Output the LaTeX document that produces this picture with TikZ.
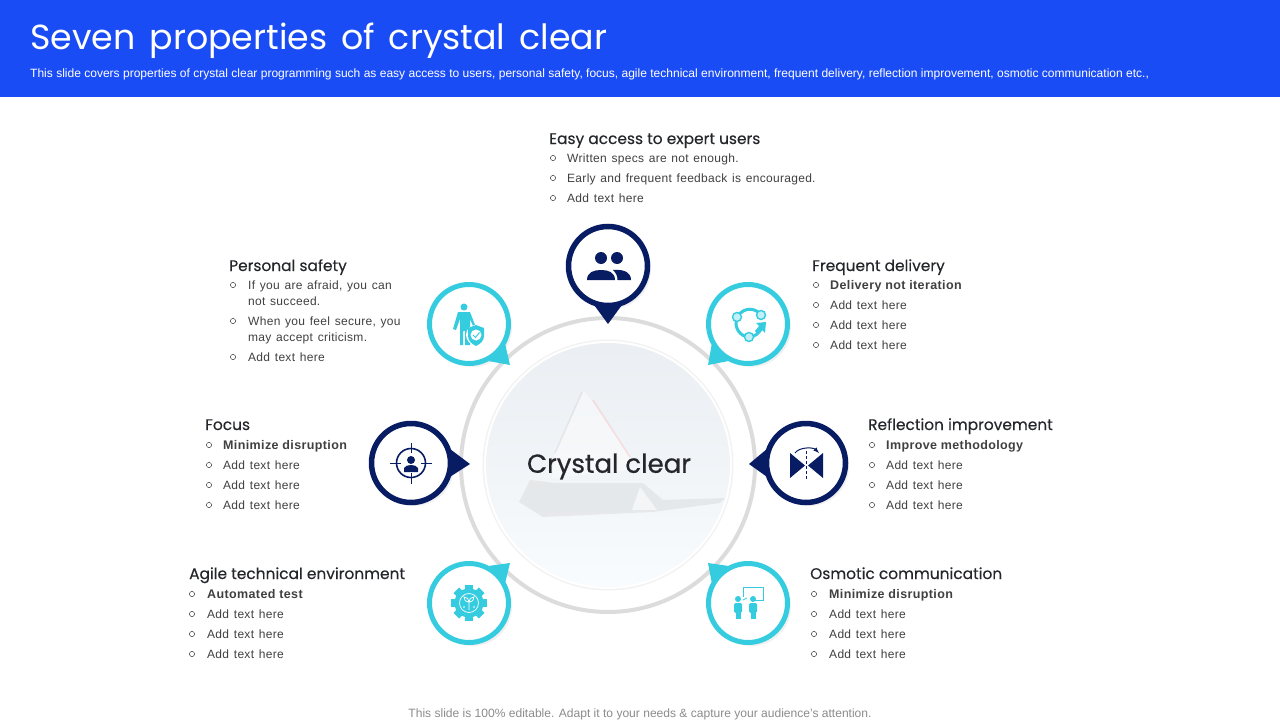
\documentclass[tikz,border=0pt]{standalone}
\usepackage{fontspec}
\usetikzlibrary{shadows}
\setmainfont{Liberation Sans}
\newfontfamily\titlefont{Poppins}[WordSpace=1.5]
\newfontfamily\headfont{Poppins}[FakeBold=0.25]
\newfontfamily\hubfont{Poppins}[FakeBold=0.7]
\newfontfamily\bodyfont{Liberation Sans}[LetterSpace=2.5,WordSpace=1.3]
\newfontfamily\strongfont{Liberation Sans Bold}[LetterSpace=3]
\definecolor{headerblue}{HTML}{1A4CF6}
\definecolor{pinnavy}{HTML}{071C63}
\definecolor{pinteal}{HTML}{36CCE0}
\definecolor{ringgray}{HTML}{DCDCDC}
\definecolor{inktext}{HTML}{24262B}
\definecolor{bodygray}{HTML}{404040}
\definecolor{disctop}{HTML}{EBEEF2}
\definecolor{discbottom}{HTML}{F8FCFE}
\tikzset{
	headtext/.style={anchor=west, inner sep=0, yshift=-1pt, text height=12pt, text depth=4pt, text=inktext, font=\headfont\fontsize{15.4}{18}\selectfont},
	bodytext/.style={anchor=west, inner sep=0, yshift=-1pt, text height=10pt, text depth=3pt, align=left, text=bodygray, font=\bodyfont\fontsize{12}{16}\selectfont},
	strongtext/.style={anchor=west, inner sep=0, yshift=-1pt, text height=10pt, text depth=3pt, text=bodygray, font=\strongfont\fontsize{12.5}{16}\selectfont},
	bulletline/.style={draw=bodygray, line width=0.5},
	pinbase/.style={circle, fill=white, minimum size=79, inner sep=0,
		drop shadow={shadow xshift=1.5pt, shadow yshift=-1.5pt, opacity=.1, fill=black!70},
		drop shadow={shadow xshift=3.5pt, shadow yshift=-3.5pt, opacity=.08, fill=black!70}},
	navypin/.style={pinbase, draw=pinnavy, line width=5.5},
	tealpin/.style={pinbase, draw=pinteal, line width=5},
}
\begin{document}
\begin{tikzpicture}[x=1pt, y=-1pt]
	\useasboundingbox (0,0) rectangle (1280,720);
	\fill[white] (0,0) rectangle (1280,720);
	\fill[headerblue] (0,0) rectangle (1280,97);
	\draw (30,41) node[anchor=west, inner sep=0, text=white, font=\titlefont\fontsize{34.8}{40}\selectfont] (title) {Seven properties of crystal clear};
	\draw (30,74) node[anchor=west, inner sep=0, text=white, font=\fontsize{12.03}{14}\selectfont] (subtitle) {This slide covers properties of crystal clear programming such as easy access to users, personal safety, focus, agile technical environment, frequent delivery, reflection improvement, osmotic communication etc.,};
	\draw (640,714) node[inner sep=0, text=black!45, font=\fontsize{12.05}{14}\selectfont] (footer) {This slide is 100\% editable. Adapt it to your needs \& capture your audience's attention.};

	\draw (608,465) node[circle, draw=ringgray, line width=4, minimum size=294, inner sep=0] (ring) {};
	\draw (608,465) node[circle, draw=white, line width=2, minimum size=246, inner sep=0, top color=disctop, bottom color=discbottom, middle color=disctop!55!discbottom,
		drop shadow={shadow xshift=0pt, shadow yshift=0pt, shadow scale=1.02, opacity=.05, fill=black}] (disc) {};

	\fill[black!25, opacity=.25] (519,502) -- (530,480) -- (555,483) -- (643,483) -- (663,500) -- (725,498) -- (720,503) -- (653,512) -- (543,517) -- cycle;
	\fill[white, opacity=.4] (584,390) -- (555,453) -- (552,478) -- (630,470) -- (630,457) -- cycle;
	\fill[white, opacity=.6] (640,487) -- (632,510) -- (657,510) -- cycle;
	\draw[black!20, opacity=.35, line width=1.5] (582,392) -- (555,453);
	\draw[red!30, opacity=.35, line width=1.5] (593,400) -- (630,457);
	\draw (609,465) node[inner sep=0, yshift=-1.5pt, text=inktext, font=\hubfont\fontsize{26}{30}\selectfont] (hub) {Crystal clear};

	\draw ( 608,266) node[navypin] (easy) {};
	\draw ( 469,324) node[tealpin] (safety) {};
	\draw ( 748,324) node[tealpin] (delivery) {};
	\draw ( 411,463) node[navypin] (focus) {};
	\draw ( 806,463) node[navypin] (reflect) {};
	\draw ( 469,603) node[tealpin] (agile) {};
	\draw ( 748,603) node[tealpin] (osmotic) {};

	\coordinate (easytip) at (608,324);
	\coordinate (safetytip) at (510,365);
	\coordinate (deliverytip) at (708,365);
	\coordinate (focustip) at (470,464);
	\coordinate (reflecttip) at (749,464);
	\coordinate (agiletip) at (510,563);
	\coordinate (osmotictip) at (708,563);

	\fill[pinnavy] (easy.-108) -- (easytip) -- (easy.-72) -- cycle;
	\fill[pinteal] (safety.-30) -- (safetytip) -- (safety.-62) -- cycle;
	\fill[pinteal] (delivery.-118) -- (deliverytip) -- (delivery.-150) -- cycle;
	\fill[pinnavy] (focus.18) -- (focustip) -- (focus.-18) -- cycle;
	\fill[pinnavy] (reflect.162) -- (reflecttip) -- (reflect.198) -- cycle;
	\fill[pinteal] (agile.30) -- (agiletip) -- (agile.62) -- cycle;
	\fill[pinteal] (osmotic.118) -- (osmotictip) -- (osmotic.150) -- cycle;

	\fill[pinnavy] (601,258) circle (6) (617,258) circle (6);
	\fill[pinnavy] (587,280) .. controls (587,272) and (594,270) .. (601,270) .. controls (608,270) and (615,272) .. (615,280) -- cycle;
	\fill[pinnavy] (613,270) .. controls (625,269) and (631,273) .. (631,280) -- (617.5,280) .. controls (617.5,276) and (616,273) .. (613,270) -- cycle;

	\fill[pinteal] (464,307) circle (3.5);
	\fill[pinteal] (458,312) -- (470,312) -- (475,325) -- (473,326) -- (470,319) -- (470,345) -- (465,345) -- (465,331) -- (463,331) -- (463,345) -- (460,345) -- (460,319) -- (456,330) -- (453,329) -- cycle;
	\fill[white] (476,335) circle (10);
	\fill[pinteal] (468,328) -- (476,325) -- (484,328) -- (484,336) .. controls (484,341) and (480,344) .. (476,346) .. controls (472,344) and (468,341) .. (468,336) -- cycle;
	\fill[white] (476,335) circle (5.5);
	\draw[pinteal, line width=1] (473,335) -- (475.5,337.5) -- (479.5,332.5);

	\draw[pinteal, line width=3] (737,317) .. controls (745,305) and (757,309) .. (761,315);
	\draw[pinteal, line width=3] (737,317) .. controls (733,328) and (741,337) .. (749,337) .. controls (755,337) and (759,333) .. (762,328);
	\fill[pinteal] (766,322) -- (765,333) -- (762,330) -- (757,334) -- (755,331) -- (759,326) -- (756,323) -- cycle;
	\foreach \xx/\yy in {737/317, 761/315, 749/337}
		\draw[pinteal, fill=white!70!pinteal, line width=1.4] (\xx,\yy) circle (4.5);

	\draw[pinnavy, line width=1.6] (411,463) circle (14.5);
	\draw[pinnavy, line width=1] (390,463) -- (401,463) (421,463) -- (432,463) (411,443) -- (411,453) (411,473) -- (411,484);
	\fill[pinnavy] (411,460) circle (4);
	\fill[pinnavy] (404,472) -- (404,468) .. controls (405,466) and (408,465) .. (411,465) .. controls (414,465) and (417,466) .. (418,468) -- (418,472) -- cycle;

	\fill[pinnavy] (790,453) -- (805,465.5) -- (790,478) -- cycle;
	\fill[pinnavy] (823,453) -- (808,465.5) -- (823,478) -- cycle;
	\draw[pinnavy, line width=1, dash pattern=on 3pt off 2pt] (806.5,451) -- (806.5,480);
	\draw[pinnavy, line width=1, -latex] (795,453) .. controls (799,447) and (813,447) .. (819,453);

	\foreach \ang in {0,45,...,315}
		\fill[pinteal, rotate around={\ang:(469,603)}] (465,585) rectangle (473,590);
	\fill[pinteal] (469,603) circle (14.5);
	\draw[white, line width=0.7] (469,603) circle (9.5);
	\draw[white, line width=0.7] (469,610) -- (469,602) (469,602) .. controls (465,602) and (464,599) .. (464,597) .. controls (467,597) and (469,599) .. (469,602) .. controls (469,599) and (471,597) .. (474,597) .. controls (474,599) and (473,602) .. (469,602);
	\fill[white] (464,607) circle (0.8) (474,607) circle (0.8);

	\draw[pinteal, line width=0.8] (743,597) -- (743,587) -- (763,587) -- (763,600) -- (752,600);
	\draw[pinteal, line width=0.8] (743,600) -- (747,598);
	\fill[pinteal] (738,599) circle (3) (753,599) circle (3);
	\fill[pinteal, rounded corners=1.5] (734,603) rectangle (742,613);
	\fill[pinteal, rounded corners=1.5] (749,603) rectangle (757,613);
	\fill[pinteal] (735.5,610) rectangle (740.5,619);
	\fill[pinteal] (750.5,610) rectangle (755.5,619);

	\draw (549,139) node[headtext] (easyhead) {Easy access to expert users};
	\foreach \yy in {158,178,198} \draw[bulletline] (553,\yy) circle (2.6);
	\draw (567,158) node[bodytext] (easya) {Written specs are not enough.};
	\draw (567,178) node[bodytext] (easyb) {Early and frequent feedback is encouraged.};
	\draw (567,198) node[bodytext] (easyc) {Add text here};

	\draw (229,266) node[headtext] (safetyhead) {Personal safety};
	\foreach \yy in {285,321,357} \draw[bulletline] (233,\yy) circle (2.6);
	\draw (248,301) node[bodytext] (safetya) {If you are afraid, you can\\not succeed.};
	\draw (248,337) node[bodytext] (safetyb) {When you feel secure, you\\may accept criticism.};
	\draw (248,357) node[bodytext] (safetyc) {Add text here};

	\draw (812,266) node[headtext] (deliveryhead) {Frequent delivery};
	\foreach \yy in {285,305,325,345} \draw[bulletline] (816,\yy) circle (2.6);
	\draw (830,285) node[strongtext] (deliverya) {Delivery not iteration};
	\draw (830,305) node[bodytext] (deliveryb) {Add text here};
	\draw (830,325) node[bodytext] (deliveryc) {Add text here};
	\draw (830,345) node[bodytext] (deliveryd) {Add text here};

	\draw (205,425) node[headtext] (focushead) {Focus};
	\foreach \yy in {445,465,485,505} \draw[bulletline] (209,\yy) circle (2.6);
	\draw (223,445) node[strongtext] (focusa) {Minimize disruption};
	\draw (223,465) node[bodytext] (focusb) {Add text here};
	\draw (223,485) node[bodytext] (focusc) {Add text here};
	\draw (223,505) node[bodytext] (focusd) {Add text here};

	\draw (868,425) node[headtext] (reflecthead) {Reflection improvement};
	\foreach \yy in {445,465,485,505} \draw[bulletline] (872,\yy) circle (2.6);
	\draw (886,445) node[strongtext] (reflecta) {Improve methodology};
	\draw (886,465) node[bodytext] (reflectb) {Add text here};
	\draw (886,485) node[bodytext] (reflectc) {Add text here};
	\draw (886,505) node[bodytext] (reflectd) {Add text here};

	\draw (189,574) node[headtext] (agilehead) {Agile technical environment};
	\foreach \yy in {594,614,634,654} \draw[bulletline] (192,\yy) circle (2.6);
	\draw (207,594) node[strongtext] (agilea) {Automated test};
	\draw (207,614) node[bodytext] (agileb) {Add text here};
	\draw (207,634) node[bodytext] (agilec) {Add text here};
	\draw (207,654) node[bodytext] (agiled) {Add text here};

	\draw (810,574) node[headtext] (osmotichead) {Osmotic communication};
	\foreach \yy in {594,614,634,654} \draw[bulletline] (814,\yy) circle (2.6);
	\draw (829,594) node[strongtext] (osmotica) {Minimize disruption};
	\draw (829,614) node[bodytext] (osmoticb) {Add text here};
	\draw (829,634) node[bodytext] (osmoticc) {Add text here};
	\draw (829,654) node[bodytext] (osmoticd) {Add text here};
\end{tikzpicture}
\end{document}
